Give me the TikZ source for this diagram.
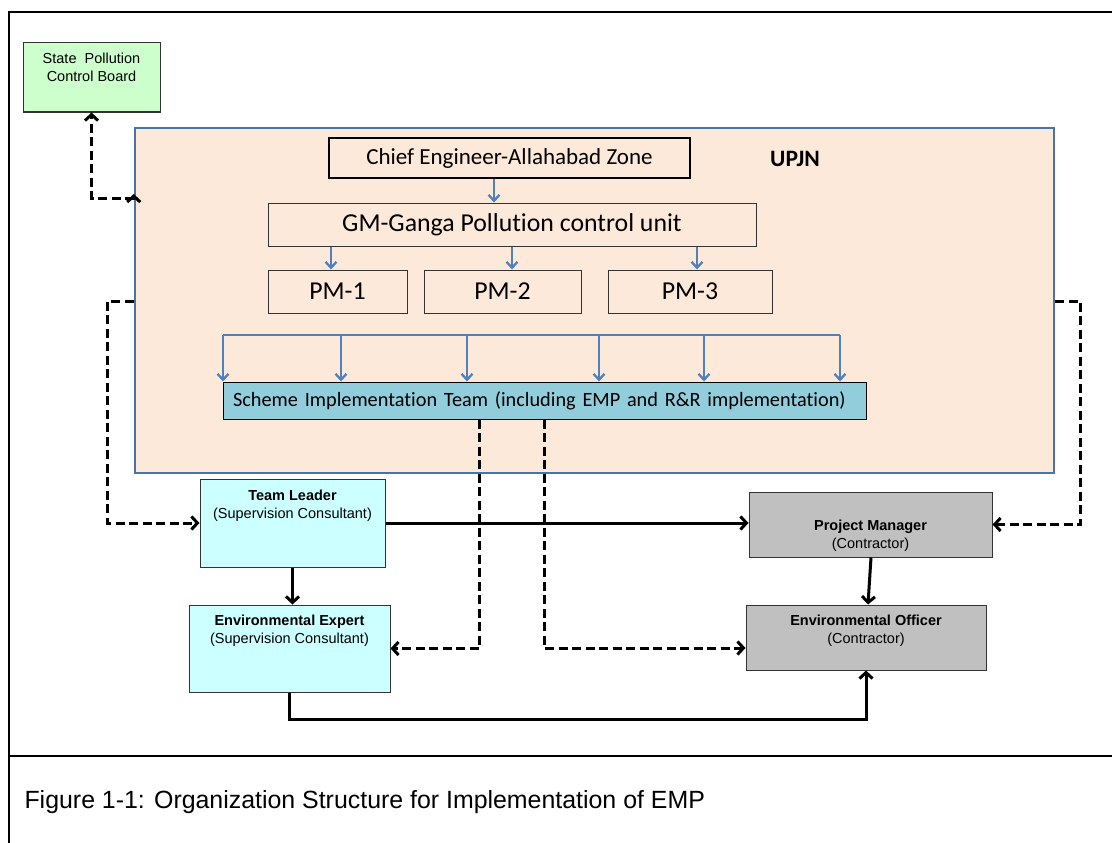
\documentclass[tikz,border=0pt]{standalone}
\usepackage{fontspec}
\setmainfont{Liberation Sans}
\newfontfamily\calibri[Ligatures={NoCommon,NoContextual}]{Carlito}
\usepackage{xcolor}
\usepackage{tikz}
\usetikzlibrary{arrows.meta,calc}

\definecolor{spcbgreen}{HTML}{CCFFCC}
\definecolor{upjnfill}{HTML}{FDE9D9}
\definecolor{upjnline}{HTML}{4A74A8}
\definecolor{arrblue}{HTML}{4F81BD}
\definecolor{sitblue}{HTML}{92CDDC}
\definecolor{conscyan}{HTML}{CCFFFF}
\definecolor{contgray}{HTML}{C0C0C0}

\begin{document}
\begin{tikzpicture}[x=1pt,y=-1pt,
    frame/.style={line width=2pt},
    orgbox/.style={draw=black!80, line width=1pt, rectangle, inner sep=0pt},
    smallbox/.style={orgbox, fill=#1},
    boxtext/.style={align=center, inner sep=0pt, font=\fontsize{14.5}{18}\selectfont},
    bluearr/.style={draw=arrblue, line width=2.3pt, -{Straight Barb[length=6pt,width=11pt]}},
    blueline/.style={draw=arrblue, line width=2.3pt},
    solidarr/.style={line width=3pt, -{Straight Barb[length=6pt,width=13pt]}},
    dasharr/.style={line width=3pt, dash pattern=on 9pt off 4.5pt, -{Straight Barb[length=6pt,width=13pt]}}]
  \useasboundingbox (0,0) rectangle (1112,843);
  \draw[frame] (9,843) -- (9,12) -- (1112,12);
  \draw[frame] (9,756) -- (1112,756);

  \node[smallbox=spcbgreen, minimum width=137, minimum height=69] (spcb) at (91.5,77.5) {};
  \node[boxtext, anchor=north] (spcbtext) at (91.5,53) {State~ Pollution\\Control Board};

  \node[draw=upjnline, line width=2.5pt, fill=upjnfill, minimum width=919, minimum height=345, inner sep=0pt] (upjn) at (594.5,300.5) {};
  \node[font=\calibri\bfseries\fontsize{23.5}{27}\selectfont] (upjnlabel) at (795,159) {UPJN};

  \node[orgbox, line width=1.3pt, draw=black, minimum width=361, minimum height=40, font=\calibri\fontsize{23}{27}\selectfont] (chief) at (509.5,158) {Chief Engineer-Allahabad Zone};
  \node[orgbox, minimum width=488, minimum height=43, font=\calibri\fontsize{25.8}{30}\selectfont] (gm) at (512,224.5) {GM-Ganga Pollution control unit};
  \node[orgbox, minimum width=139, minimum height=43, font=\calibri\fontsize{25.8}{30}\selectfont] (pm1) at (337.5,291.5) {PM-1};
  \node[orgbox, minimum width=157, minimum height=43, font=\calibri\fontsize{25.8}{30}\selectfont] (pm2) at (502.5,291.5) {PM-2};
  \node[orgbox, minimum width=164, minimum height=43, font=\calibri\fontsize{25.8}{30}\selectfont] (pm3) at (690,291.5) {PM-3};

  \draw[bluearr] ([xshift=-15.5]chief.south) -- ([xshift=-15.5]chief.south |- gm.north);
  \draw[bluearr] ([xshift=-6.5]pm1.north |- gm.south) -- ([xshift=-6.5]pm1.north);
  \draw[bluearr] ([xshift=9.5]pm2.north |- gm.south) -- ([xshift=9.5]pm2.north);
  \draw[bluearr] ([xshift=7]pm3.north |- gm.south) -- ([xshift=7]pm3.north);

  \node[orgbox, draw=black, fill=sitblue, minimum width=643, minimum height=37, text width=623, align=left, inner xsep=10pt, font=\calibri\fontsize{20.3}{24}\selectfont] (sit) at (544.5,400.5) {Scheme Implementation Team (including EMP and R\&R implementation)};
  \coordinate (busl) at (223,335);
  \coordinate (busr) at (840,335);
  \draw[blueline] (busl) -- (busr);
  \foreach \x in {223,341,467,599,704,840}
    \draw[bluearr] (\x,335) -- (\x,0 |- sit.north);

  \node[smallbox=conscyan, minimum width=185, minimum height=88] (tl) at (292.5,523) {};
  \node[boxtext, anchor=north] (tltext) at (292.5,490) {\textbf{Team Leader}\\(Supervision Consultant)};
  \node[smallbox=conscyan, minimum width=201, minimum height=87] (ee) at (289.5,648.5) {};
  \node[boxtext, anchor=north] (eetext) at (289.5,615) {\textbf{Environmental Expert}\\(Supervision Consultant)};
  \node[smallbox=contgray, minimum width=243, minimum height=65] (projmgr) at (870.5,524.5) {};
  \node[boxtext, anchor=north] (projmgrtext) at (870.5,520) {\textbf{Project Manager}\\(Contractor)};
  \node[smallbox=contgray, minimum width=240, minimum height=65] (eo) at (866,637.5) {};
  \node[boxtext, anchor=north] (eotext) at (866,615) {\textbf{Environmental Officer}\\(Contractor)};

  \draw[solidarr] (tl.east) -- (tl.east -| projmgr.west);
  \draw[solidarr] (tl.south) -- (tl.south |- ee.north);
  \draw[solidarr] ([xshift=0.5]projmgr.south) -- ([xshift=2]eo.north);
  \draw[solidarr] (ee.south) -- ++(0,27) -| (eo.south);

  \draw[dasharr] (479,0 |- sit.south) |- (ee.east);
  \draw[dasharr] (544,0 |- sit.south) -- (544,648) -- (eo.west |- 0,648);
  \draw[dasharr] (upjn.west |- 0,301) -| ([xshift=-92]tl.west) -- (tl.west);
  \draw[dasharr] (upjn.east |- 0,301) -| ([xshift=88]projmgr.east) -- (projmgr.east);
  \draw[dasharr, {Straight Barb[length=6pt,width=13pt]}-{Straight Barb[length=6pt,width=13pt]}] (upjn.west |- 0,194) -- (upjn.west |- 0,198) -| (spcb.south);

  \node[anchor=west, font=\fontsize{24.9}{28}\selectfont] (caption) at (21,802) {Figure 1-1: Organization Structure for Implementation of EMP};
\end{tikzpicture}
\end{document}
